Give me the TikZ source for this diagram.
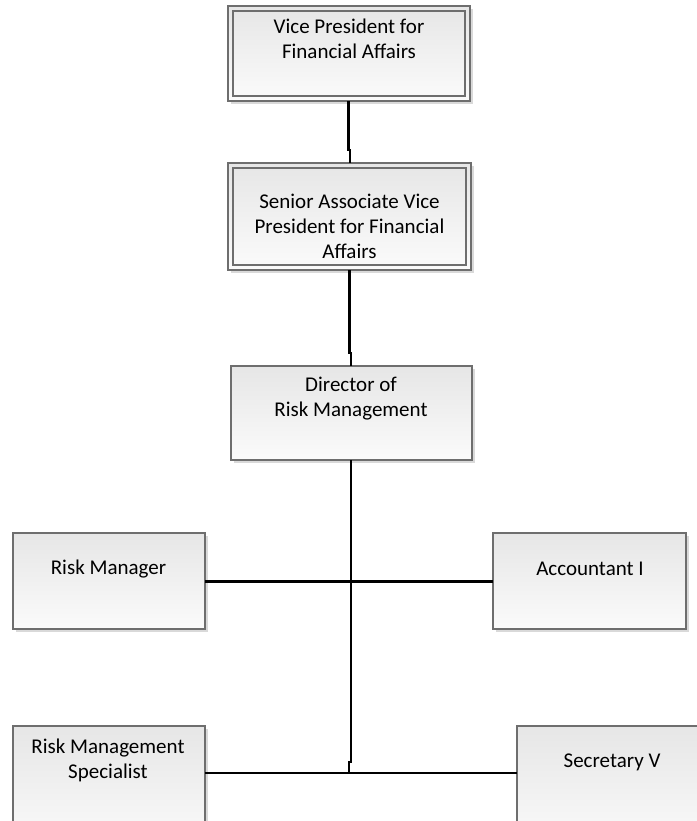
\documentclass[tikz,border=0pt]{standalone}
\usepackage{fontspec}
\setmainfont{Carlito}
\usetikzlibrary{calc}
\definecolor{boxline}{HTML}{6E6E6E}
\definecolor{boxtop}{HTML}{E6E6E6}
\definecolor{boxbot}{HTML}{FBFBFB}
\definecolor{shadowc}{HTML}{D9D9D9}
\begin{document}
\begin{tikzpicture}[x=1pt,y=-1pt,
  box/.style={draw=boxline,line width=1.4pt,top color=boxtop,bottom color=boxbot},
  shadowbox/.style={fill=shadowc,draw=none},
  txt/.style={font=\fontsize{21}{25}\selectfont,align=center,inner sep=0pt,text=black},
  link/.style={line width=2.4pt,black}]
\useasboundingbox (0,0) rectangle (696,821);
% shadows
\fill[shadowc] (231,9) rectangle (473,104);
\fill[shadowc] (231,166) rectangle (474,273);
\fill[shadowc] (234,369) rectangle (475,463);
\fill[shadowc] (16,536) rectangle (208,632);
\fill[shadowc] (496,536) rectangle (689,632);
\fill[shadowc] (16,729) rectangle (208,850);
\fill[shadowc] (520,729) rectangle (720,850);
% boxes
\draw[box] (228,6) rectangle (470,101);
\draw[draw=boxline,line width=1.2pt] (233,11) rectangle (465,96);
\coordinate (vps) at (348.5,101);
\draw[box] (228,163) rectangle (471,270);
\draw[draw=boxline,line width=1.2pt] (233,168) rectangle (466,265);
\coordinate (savn) at (350,163);
\coordinate (savs) at (349.5,270);
\draw[box] (231,366) rectangle (472,460);
\coordinate (dirn) at (351,366);
\coordinate (dirs) at (351,460);
\draw[box] (13,533) rectangle (205,629);
\coordinate (rme) at (205,581.5);
\draw[box] (493,533) rectangle (686,629);
\coordinate (acw) at (493,581.5);
\draw[box] (13,726) rectangle (205,850);
\coordinate (rmse) at (205,773);
\draw[box] (517,726) rectangle (720,850);
\coordinate (secw) at (517,773);
% texts
\node[txt] (t1) at (349,39) {Vice President for\\Financial Affairs};
\node[txt] (t2) at (349.5,226) {Senior Associate Vice\\President for Financial\\Affairs};
\node[txt] (t3) at (351,399) {Director of\\Risk Management};
\node[txt] (t4) at (108.5,569) {Risk Manager};
\node[txt] (t5) at (590,569) {Accountant I};
\node[txt] (t6) at (108,760) {Risk Management\\Specialist};
\node[txt] (t7) at (612,762) {Secretary V};
% connectors
\draw[link] (vps) -- (348.5,150) -- (350,150) -- (savn);
\draw[link] (savs) -- (349.5,353) -- (351,353) -- (dirn);
\draw[link] (dirs) -- (351,762) -- (349,762) -- (349,773);
\draw[link] (rme) -- (acw);
\draw[link] (rmse) -- (secw);
\end{tikzpicture}
\end{document}
